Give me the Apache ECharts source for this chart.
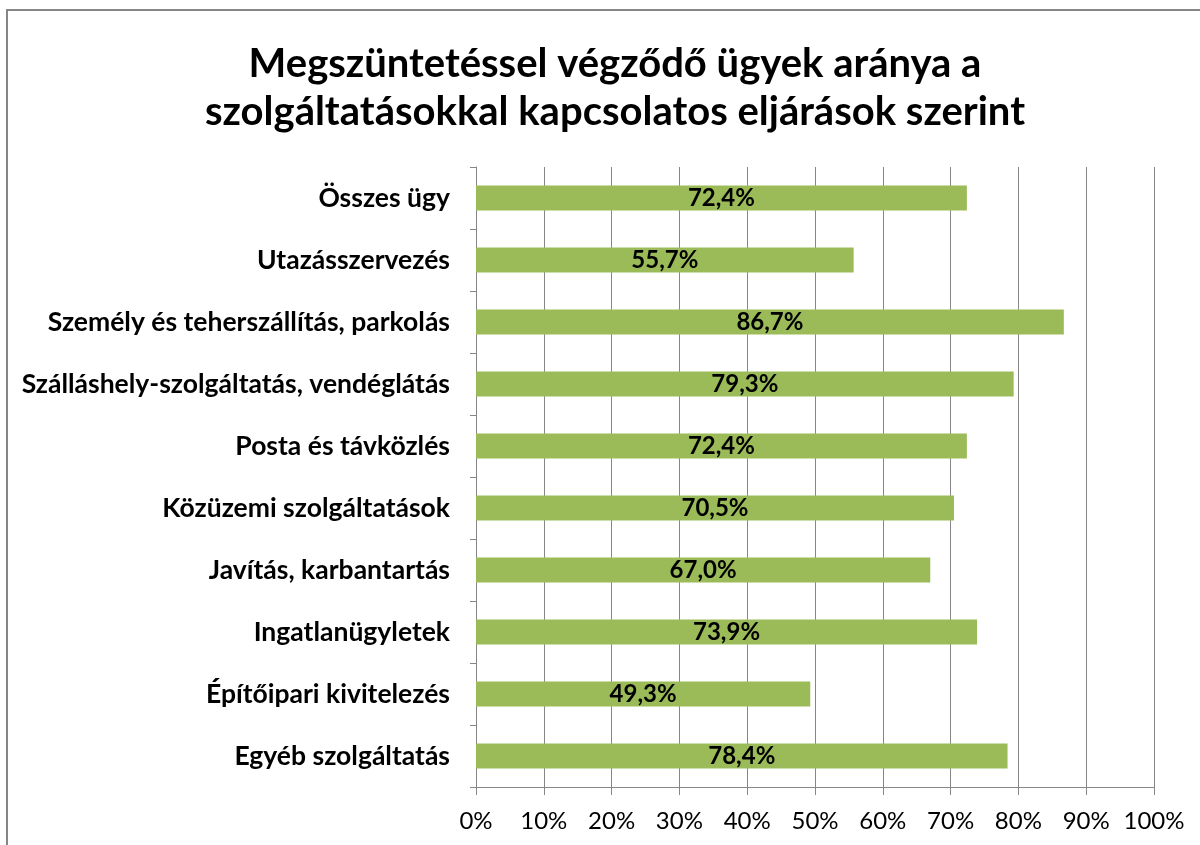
<!DOCTYPE html>
<html lang="hu">
<head>
<meta charset="UTF-8">
<title>chart</title>
<script src="https://cdn.jsdelivr.net/npm/echarts@6/dist/echarts.min.js"></script>
<style>
  html, body { margin: 0; padding: 0; background: #fff; }
  #container { width: 1200px; height: 845px; }
</style>
</head>
<body>
<div id="container"></div>
<script>
// adatok (fentről lefelé)
const categories = [
  'Összes ügy',
  'Utazásszervezés',
  'Személy és teherszállítás, parkolás',
  'Szálláshely-szolgáltatás, vendéglátás',
  'Posta és távközlés',
  'Közüzemi szolgáltatások',
  'Javítás, karbantartás',
  'Ingatlanügyletek',
  'Építőipari kivitelezés',
  'Egyéb szolgáltatás'
]
const values = [72.4, 55.7, 86.7, 79.3, 72.4, 70.5, 67.0, 73.9, 49.3, 78.4]
const titleLines = [
  'Megszüntetéssel végződő ügyek aránya a',
  'szolgáltatásokkal kapcsolatos eljárások szerint'
]

const font = 'Lato, "Open Sans", sans-serif'
const gray = '#868686'

const chart = echarts.init(document.getElementById('container'))
chart.setOption({
  animation: false,
  backgroundColor: '#fff',
  title: {
    text: titleLines.join('\n'),
    left: 610,
    textAlign: 'center',
    top: 35,
    textStyle: {
      fontFamily: font,
      fontSize: 40,
      fontWeight: 'bold',
      color: '#000',
      lineHeight: 48
    }
  },
  graphic: [{
    type: 'rect',
    shape: { x: 7, y: 10, width: 1300, height: 1000 },
    style: { fill: 'none', stroke: gray, lineWidth: 2 },
    silent: true
  }],
  grid: { left: 476, right: 46, top: 167, bottom: 58 },
  xAxis: {
    type: 'value',
    min: 0,
    max: 100,
    interval: 10,
    axisLine: { show: true, lineStyle: { color: gray, width: 1 } },
    axisTick: { show: true, length: 8, lineStyle: { color: gray } },
    splitLine: { show: true, lineStyle: { color: gray, width: 1 } },
    axisLabel: {
      formatter: v => v + '%',
      fontFamily: font,
      fontSize: 24,
      color: '#000',
      margin: 22
    }
  },
  yAxis: {
    type: 'category',
    data: categories,
    inverse: true,
    axisLine: { show: true, lineStyle: { color: gray, width: 1 } },
    axisTick: { show: true, length: 6, lineStyle: { color: gray } },
    axisLabel: {
      fontFamily: font,
      fontSize: 26.5,
      fontWeight: 'bold',
      color: '#000',
      margin: 26
    }
  },
  series: [{
    type: 'bar',
    data: values,
    barWidth: 25,
    itemStyle: { color: '#9BBB59' },
    label: {
      show: true,
      position: 'inside',
      formatter: p => p.value.toFixed(1).replace('.', ',') + '%',
      fontFamily: font,
      fontSize: 24,
      fontWeight: 'bold',
      color: '#000'
    }
  }]
})
</script>
</body>
</html>
